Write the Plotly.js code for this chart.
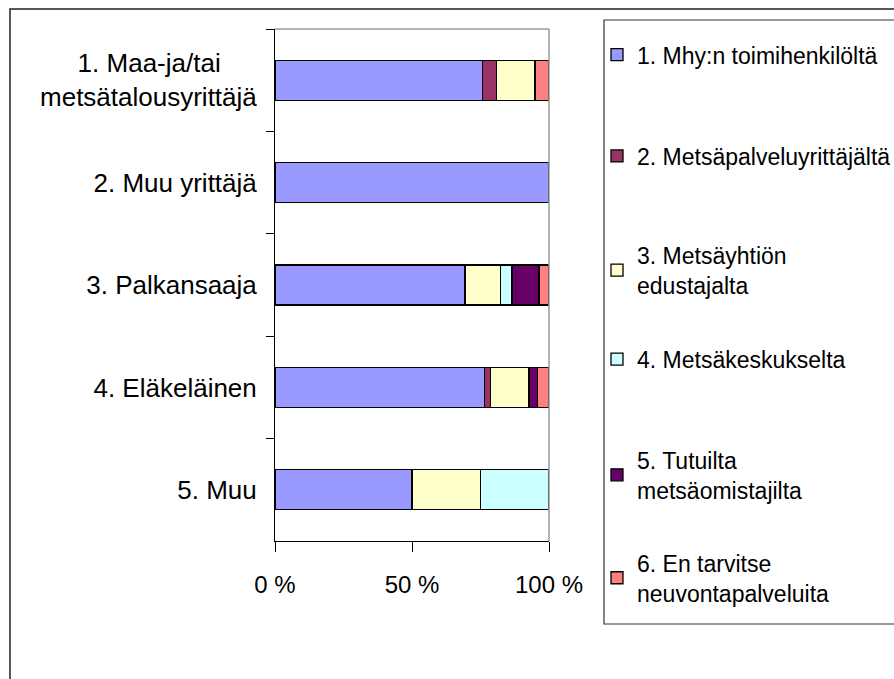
<!DOCTYPE html>
<html>
<head>
<meta charset="utf-8">
<script src="https://cdn.plot.ly/plotly-3.0.1.min.js"></script>
<style>
html,body{margin:0;padding:0;background:#fff;}
#chart{width:894px;height:679px;}
</style>
</head>
<body>
<div id="chart"></div>
<script>
// ---- data ----
var categories = [
  "1. Maa-ja/tai\u00A0\u00A0\u00A0\u00A0\u00A0<br>metsätalousyrittäjä",
  "2. Muu yrittäjä",
  "3. Palkansaaja",
  "4. Eläkeläinen",
  "5. Muu"
];
var seriesNames = [
  "1. Mhy:n toimihenkilöltä",
  "2. Metsäpalveluyrittäjältä",
  "3. Metsäyhtiön<br>edustajalta",
  "4. Metsäkeskukselta",
  "5. Tutuilta<br>metsäomistajilta",
  "6. En tarvitse<br>neuvontapalveluita"
];
var s1 = [75.7, 100, 69.3, 76.5, 50];
var s2 = [5.1, 0, 0, 2.2, 0];
var s3 = [14.1, 0, 13.1, 14.0, 25];
var s4 = [0, 0, 4.1, 0, 25];
var s5 = [0, 0, 9.9, 3.1, 0];
var s6 = [5.1, 0, 3.6, 4.2, 0];
var xTickVals = [0, 50, 100];
var xTickText = ["0 %", "50 %", "100 %"];

var seriesValues = [s1, s2, s3, s4, s5, s6];
var colors = ["#9999FF", "#993366", "#FFFFCC", "#CCFFFF", "#660066", "#FF8080"];
var legendIds = ["legend", "legend2", "legend3", "legend4", "legend5", "legend6"];
var legendY = [0.950, 0.752, 0.529, 0.355, 0.129, -0.072];

var FONT = "Liberation Sans, Arial, sans-serif";

var traces = seriesValues.map(function (vals, i) {
  return {
    type: "bar",
    orientation: "h",
    name: seriesNames[i],
    x: vals,
    y: categories,
    marker: { color: colors[i], line: { color: "#000", width: 1.3 } },
    legend: legendIds[i],
    hoverinfo: "x+name"
  };
});

var layout = {
  width: 894,
  height: 679,
  margin: { l: 275, r: 345, t: 29, b: 138, pad: 0, autoexpand: false },
  paper_bgcolor: "#fff",
  plot_bgcolor: "#fff",
  barmode: "stack",
  bargap: 0.61,
  showlegend: true,
  font: { family: FONT, size: 24, color: "#000" },
  xaxis: {
    range: [0, 100],
    tickvals: xTickVals,
    ticktext: xTickText,
    ticks: "outside",
    ticklen: 10,
    tickcolor: "#000",
    showline: true,
    linecolor: "#000",
    linewidth: 1,
    showgrid: false,
    zeroline: false,
    fixedrange: true,
    ticklabelstandoff: 12,
    tickfont: { family: FONT, size: 24, color: "#000" }
  },
  xaxis2: {
    overlaying: "x",
    range: [0, 100],
    tickvals: xTickVals,
    ticks: "inside",
    ticklen: 10,
    tickcolor: "#000",
    showticklabels: false,
    showgrid: false,
    zeroline: false,
    showline: false,
    anchor: "y"
  },
  yaxis: {
    type: "category",
    autorange: "reversed",
    tickson: "boundaries",
    ticks: "outside",
    ticklen: 8,
    tickcolor: "#000",
    showline: true,
    linecolor: "#000",
    linewidth: 1,
    showgrid: false,
    zeroline: false,
    ticklabelstandoff: 12,
    tickfont: { family: FONT, size: 26, color: "#000" }
  },
  yaxis2: {
    overlaying: "y",
    range: [4.5, -0.5],
    tickvals: [-0.5, 0.5, 1.5, 2.5, 3.5, 4.5],
    ticks: "inside",
    ticklen: 8,
    tickcolor: "#000",
    showticklabels: false,
    showgrid: false,
    zeroline: false,
    showline: false,
    anchor: "x"
  },
  shapes: [
    // plot area top & right border (gray)
    { type: "line", xref: "paper", yref: "paper", x0: 0, x1: 1, y0: 1, y1: 1, line: { color: "#999", width: 1.5 } },
    { type: "line", xref: "paper", yref: "paper", x0: 1, x1: 1, y0: 0, y1: 1, line: { color: "#999", width: 1.5 } },
    // legend box
    { type: "rect", xref: "paper", yref: "paper", x0: 1.2007, x1: 2.3, y0: -0.1621, y1: 1.0176, line: { color: "#333", width: 1.2 }, layer: "below" },
    // outer chart frame
    { type: "rect", xref: "paper", yref: "paper", x0: -0.9672, x1: 2.4, y0: -0.4, y1: 1.0391, line: { color: "#222", width: 1.5 }, layer: "below" }
  ]
};

legendIds.forEach(function (id, i) {
  layout[id] = {
    x: 1.1752,
    xanchor: "left",
    y: legendY[i],
    yanchor: "middle",
    bgcolor: "rgba(0,0,0,0)",
    borderwidth: 0,
    font: { family: FONT, size: 23, color: "#000" }
  };
});

Plotly.newPlot("chart", traces, layout, { displayModeBar: false, staticPlot: true });
</script>
</body>
</html>
